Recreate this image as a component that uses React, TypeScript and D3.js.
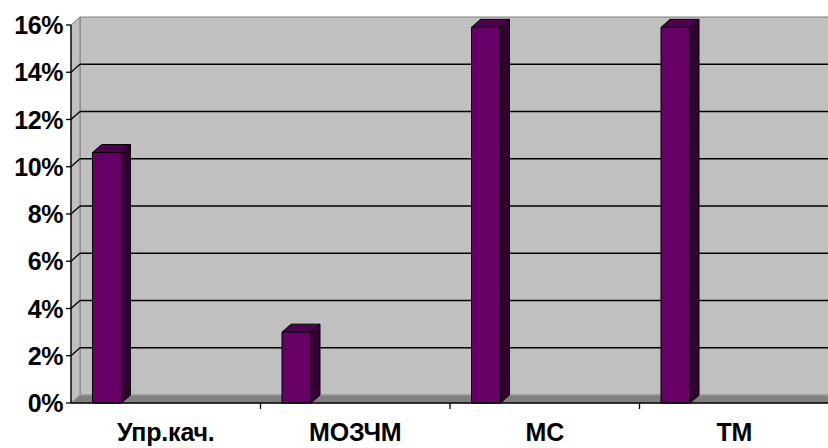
import React from "react";
import * as d3 from "d3";

const categories: string[] = ["Упр.кач.", "МОЗЧМ", "МС", "ТМ"];
const values: number[] = [10.6, 3.0, 15.9, 15.9];
const yTicks: number[] = [0, 2, 4, 6, 8, 10, 12, 14, 16];

const W = 828;
const H = 448;
const DX = 9;
const DY = -8;
const FONT = "'Liberation Sans', Arial, sans-serif";

export default function App() {
  const x = d3.scaleBand<string>().domain(categories).range([71, 829]).padding(0);
  const y = d3.scaleLinear().domain([0, 16]).range([403, 25]);
  const bw = x.bandwidth();
  const barOff = bw * 0.1135;
  const barW = bw * 0.153;
  const x0 = 71;
  const x1 = 829;
  const y0 = y(0);
  const yTop = y(16);

  const poly = (pts: [number, number][]) => pts.map((p) => p.join(",")).join(" ");

  return (
    <svg
      width={W}
      height={H}
      style={{ position: "absolute", left: 0, top: 0, background: "#fff" }}
      fontFamily={FONT}
    >
      <rect x={x0 + DX} y={yTop + DY} width={x1 - x0} height={y0 - yTop} fill="#c0c0c0" stroke="#808080" strokeWidth={1} />
      <polygon
        points={poly([[x0, y0], [x0, yTop], [x0 + DX, yTop + DY], [x0 + DX, y0 + DY]])}
        fill="#c0c0c0"
        stroke="#808080"
        strokeWidth={1}
      />
      <polygon
        points={poly([[x0, y0], [x0 + DX, y0 + DY], [x1 + DX, y0 + DY], [x1, y0]])}
        fill="#808080"
        stroke="#a0a0a0"
        strokeWidth={1}
      />
      {yTicks.filter((t) => t > 0 && t < 16).map((t) => (
        <g key={"g" + t}>
          <line x1={x0} y1={y(t)} x2={x0 + DX} y2={y(t) + DY} stroke="#000" strokeWidth={1.3} />
          <line x1={x0 + DX} y1={y(t) + DY} x2={x1 + DX} y2={y(t) + DY} stroke="#000" strokeWidth={1.3} />
        </g>
      ))}
      {categories.map((c, i) => {
        const bx = (x(c) as number) + barOff;
        const by = y(values[i]);
        return (
          <g key={c} stroke="#000" strokeWidth={1} strokeLinejoin="round">
            <polygon
              points={poly([[bx + barW, y0], [bx + barW, by], [bx + barW + DX, by + DY], [bx + barW + DX, y0 + DY]])}
              fill="#330033"
            />
            <polygon
              points={poly([[bx, by], [bx + DX, by + DY], [bx + barW + DX, by + DY], [bx + barW, by]])}
              fill="#4d004d"
            />
            <rect x={bx} y={by} width={barW} height={y0 - by} fill="#660066" />
          </g>
        );
      })}
      <line x1={x0} y1={yTop} x2={x0} y2={y0} stroke="#000" strokeWidth={1.3} />
      {yTicks.map((t) => (
        <g key={"t" + t}>
          <line x1={x0 - 5} y1={y(t)} x2={x0} y2={y(t)} stroke="#000" strokeWidth={1.3} />
          <text
            x={63}
            y={y(t)}
            dy="0.36em"
            textAnchor="end"
            fontSize={25}
            fontWeight="bold"
            letterSpacing={-0.4}
            fill="#000"
          >
            {t + "%"}
          </text>
        </g>
      ))}
      <line x1={x0} y1={y0} x2={x1} y2={y0} stroke="#000" strokeWidth={1.3} />
      {categories.map((c, i) => (
        <g key={"c" + c}>
          {i > 0 && <line x1={x(c)} y1={y0} x2={x(c)} y2={y0 + 6} stroke="#000" strokeWidth={1.3} />}
          <text
            x={(x(c) as number) + bw / 2}
            y={441}
            textAnchor="middle"
            fontSize={25}
            fontWeight="bold"
            letterSpacing={-0.2}
            fill="#000"
          >
            {c}
          </text>
        </g>
      ))}
    </svg>
  );
}
